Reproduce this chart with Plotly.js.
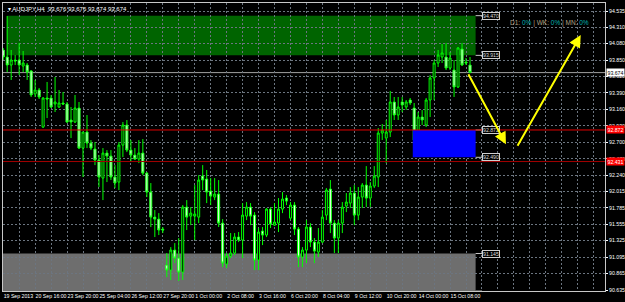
<!DOCTYPE html>
<html><head><meta charset="utf-8">
<script src="https://cdn.plot.ly/plotly-3.0.1.min.js"></script>
<style>html,body{margin:0;padding:0;background:#000;overflow:hidden}#chart{width:625px;height:302px}</style>
</head><body><div id="chart"></div>
<script>
// ---- data (AUDJPY H4) ----
const barOpen = [93.990,93.892,93.780,93.850,93.850,93.766,93.780,93.696,93.375,93.431,
 92.913,93.319,93.319,93.235,93.193,93.249,93.235,93.011,92.983,93.179,
 92.619,92.843,92.689,92.605,92.451,92.200,92.549,92.507,92.214,92.144,
 92.661,92.941,92.591,92.521,92.465,92.549,92.269,92.004,91.654,91.626,
 91.487,90.983,90.913,91.193,91.081,90.885,91.794,91.668,91.668,91.654,
 92.228,92.186,92.018,91.934,91.976,91.570,90.997,91.109,91.151,91.375,
 91.333,91.668,91.794,91.682,91.053,91.459,91.403,91.766,91.542,91.570,
 91.766,91.920,91.640,91.822,91.487,91.095,91.193,91.515,91.305,91.165,
 91.305,91.682,92.046,91.570,91.361,91.570,91.808,91.850,91.990,91.682,
 91.934,92.102,91.920,92.088,92.214,92.829,92.759,92.843,93.263,93.081,
 93.263,93.193,93.291,93.179,92.731,93.053,92.941,93.291,93.599,93.808,
 93.892,93.892,93.738,93.710,93.473,94.004,93.822,93.780];
const barHigh = [94.018,94.465,93.990,93.920,94.088,93.976,93.808,93.710,93.571,93.459,
 93.333,93.543,93.361,93.613,93.431,93.403,93.263,93.193,93.361,93.263,
 92.843,93.081,92.731,92.703,92.521,92.619,92.591,92.591,92.381,92.703,
 92.983,93.011,92.731,92.619,92.731,92.745,92.283,92.130,91.752,91.710,
 91.515,91.151,91.235,91.291,91.361,91.822,91.892,91.794,92.102,92.241,
 92.381,92.312,92.200,92.200,92.172,91.626,91.151,91.431,91.431,91.445,
 91.850,91.864,91.850,91.724,91.501,91.515,91.780,91.794,91.850,91.920,
 92.004,91.962,91.864,91.864,91.515,91.235,91.612,91.570,91.361,91.501,
 91.752,92.060,92.172,91.612,91.612,91.864,91.990,92.074,92.102,92.074,
 92.130,92.367,92.144,92.367,92.899,92.955,93.011,93.417,93.333,93.333,
 93.333,93.291,93.319,93.249,93.123,93.151,93.319,93.640,93.850,93.990,
 94.074,94.088,93.962,93.850,94.032,94.088,93.878,93.892];
const barLow = [93.850,93.682,93.571,93.780,93.640,93.682,93.571,93.333,93.333,93.305,
 92.899,93.039,93.179,93.123,93.179,93.221,92.969,92.759,92.969,92.605,
 92.214,92.619,92.591,92.381,92.074,91.892,92.144,92.172,92.060,92.032,
 92.493,92.563,92.423,92.451,92.409,92.241,91.934,91.515,91.375,91.403,
 91.431,90.815,90.774,91.011,90.760,90.774,91.473,91.542,91.333,91.570,
 92.032,91.850,91.822,91.892,91.515,90.955,90.941,91.081,91.123,91.305,
 91.081,91.612,91.542,90.913,90.913,91.263,91.375,91.501,91.530,91.445,
 91.710,91.822,91.612,91.403,90.955,90.955,91.011,91.235,91.011,91.095,
 91.291,91.612,91.431,91.151,91.151,91.431,91.724,91.780,91.542,91.612,
 91.780,91.794,91.794,92.060,92.074,92.731,92.409,92.773,93.011,93.011,
 93.123,93.151,93.221,92.493,92.661,92.941,92.913,93.053,93.291,93.752,
 93.808,93.710,93.710,93.333,93.459,93.766,93.780,93.668];
const barClose = [93.892,93.780,93.850,93.836,93.780,93.808,93.682,93.361,93.431,93.333,
 93.319,93.305,93.193,93.263,93.249,93.235,92.983,92.983,93.179,92.619,
 92.843,92.689,92.619,92.451,92.214,92.549,92.507,92.214,92.130,92.661,
 92.941,92.591,92.521,92.465,92.549,92.269,92.004,91.654,91.626,91.473,
 91.473,90.913,91.193,91.081,90.885,91.794,91.654,91.710,91.697,92.172,
 92.172,92.004,91.948,91.976,91.570,91.011,91.109,91.151,91.375,91.333,
 91.682,91.794,91.668,91.053,91.445,91.403,91.766,91.556,91.585,91.766,
 91.906,91.878,91.822,91.487,91.095,91.193,91.515,91.305,91.179,91.305,
 91.654,92.032,91.570,91.361,91.570,91.794,91.864,91.990,91.682,91.934,
 92.102,91.920,92.088,92.228,92.829,92.871,92.843,93.263,93.081,93.193,
 93.221,93.263,93.249,92.731,93.053,93.011,93.291,93.599,93.808,93.920,
 93.948,93.738,93.878,93.473,94.018,93.780,93.808,93.674];

const xTickLabels = ['19 Sep 2013','20 Sep 16:00','23 Sep 20:00','25 Sep 04:00','26 Sep 12:00',
 '27 Sep 20:00','1 Oct 00:00','2 Oct 08:00','3 Oct 16:00','6 Oct 20:00','8 Oct 04:00',
 '9 Oct 12:00','10 Oct 20:00','14 Oct 00:00','15 Oct 08:00'];
const yTickLabels = ['94.535','94.310','94.080','93.850','93.620','93.390','93.160','92.930','92.700',
 '92.470','92.240','92.015','91.785','91.555','91.325','91.095','90.865','90.635'];

// zones (rectangles): price top / bottom, bar from / to
const zoneTop    = [94.470, 92.872, 91.145];
const zoneBottom = [93.915, 92.490, 90.620];
const zoneFrom   = [0.9, 102.65, -2];
const zoneTo     = [118.4, 118.4, 118.4];
// horizontal levels
const levelPrices = [92.872, 92.431];
const lastPrice = 93.674;
const headerText = 'AUDJPY,H4  93.676 93.676 93.674 93.674';
// arrows: [bar, price] start -> end
const arrowStart = [[116.4, 93.673], [128.7, 92.630]];
const arrowEnd   = [[126.0, 92.672], [144.75, 94.200]];

// ---- build ----
const barIndex = barOpen.map((_, i) => i);
const trace = {
  type: 'candlestick', x: barIndex, open: barOpen, high: barHigh, low: barLow, close: barClose,
  increasing: {line: {color: '#00ff00', width: 1}, fillcolor: '#000000'},
  decreasing: {line: {color: '#00ff00', width: 1}, fillcolor: '#ffffff'},
  whiskerwidth: 0, hoverinfo: 'skip'
};
// white fill of bearish bodies (drawn from the same arrays)
const bearIdx = barIndex.filter(i => barClose[i] < barOpen[i]);
const bearBodies = {
  type: 'bar', x: bearIdx, base: bearIdx.map(i => barClose[i]),
  y: bearIdx.map(i => barOpen[i] - barClose[i]), width: 0.6,
  marker: {color: '#ffffff', line: {width: 0}}, hoverinfo: 'skip'
};

const xTickVals = [], xTickText = [];
for (let k = 0; k <= 37; k++) {
  xTickVals.push(4 * k);
  xTickText.push(k % 2 === 0 && xTickLabels[k / 2] ? xTickLabels[k / 2] : '');
}
const yTickVals = yTickLabels.map(Number);

const gridCol = '#6c7580';
const tickFont = {family: 'Liberation Sans, Arial, sans-serif', size: 5.2, color: '#ffffff'};
const zoneFill = ['#006400', '#0000ff', '#6e6e6e'];
const zoneLayer = ['below', 'above', 'below'];
const shapes = [], annotations = [];

zoneTop.forEach((t, i) => {
  shapes.push({type: 'rect', xref: 'x', yref: 'y', x0: zoneFrom[i], x1: zoneTo[i], y0: zoneBottom[i], y1: t,
    fillcolor: zoneFill[i], line: {width: 0}, layer: zoneLayer[i]});
  [t, zoneBottom[i]].forEach(p => {
    shapes.push({type: 'line', xref: 'x', yref: 'y', x0: zoneTo[i], x1: zoneTo[i] + 1.6, y0: p, y1: p,
      line: {color: '#c8c8c8', width: 1}, layer: 'above'});
    annotations.push({xref: 'x', yref: 'y', x: zoneTo[i] + 1.6, y: p, xanchor: 'left', yanchor: 'middle',
      text: p.toFixed(3), showarrow: false, bgcolor: '#000', bordercolor: '#d0d0d0', borderwidth: 1, borderpad: 0,
      font: {family: 'Liberation Sans, Arial', size: 5.2, color: '#d8d8d8'}});
  });
});

const levelCol = ['#e00000', '#a00000'];
levelPrices.forEach((p, i) => {
  shapes.push({type: 'line', xref: 'paper', yref: 'y', x0: 0, x1: 1, y0: p, y1: p,
    line: {color: levelCol[i], width: 1}, layer: 'above'});
  annotations.push({xref: 'paper', yref: 'y', x: 1, y: p, xanchor: 'left', yanchor: 'middle', xshift: 1,
    text: p.toFixed(3), showarrow: false, bgcolor: '#ff0000', borderpad: 0.5,
    font: {family: 'Liberation Sans, Arial', size: 5.2, color: '#ffffff'}});
});

shapes.push({type: 'line', xref: 'paper', yref: 'y', x0: 0, x1: 1, y0: lastPrice, y1: lastPrice,
  line: {color: '#a0a0a0', width: 1}, layer: 'below'});
annotations.push({xref: 'paper', yref: 'y', x: 1, y: lastPrice, xanchor: 'left', yanchor: 'middle', xshift: 1,
  text: lastPrice.toFixed(3), showarrow: false, bgcolor: '#ffffff', borderpad: 0.5,
  font: {family: 'Liberation Sans, Arial', size: 5.2, color: '#000000'}});

arrowStart.forEach((s, i) => {
  annotations.push({xref: 'x', yref: 'y', axref: 'x', ayref: 'y', x: arrowEnd[i][0], y: arrowEnd[i][1],
    ax: s[0], ay: s[1], text: '', showarrow: true, arrowcolor: '#ffff00', arrowwidth: 2,
    arrowhead: 2, arrowsize: 1.2});
});

annotations.push({xref: 'paper', yref: 'paper', x: 0, y: 1, xanchor: 'left', yanchor: 'top', xshift: 3, yshift: -0.5,
  text: '\u25BE ' + headerText, showarrow: false,
  font: {family: 'Liberation Sans, Arial', size: 6, color: '#ffffff'}});
annotations.push({xref: 'paper', yref: 'paper', x: 0.9086, y: 0.9306, xanchor: 'center', yanchor: 'middle',
  text: '<span style="color:#b0a080">D1:</span> <span style="color:#00b0b0">0%</span> <span style="color:#b0a080">|</span> ' +
        '<span style="color:#b0a080">WK:</span> <span style="color:#00b0b0">0%</span> <span style="color:#b0a080">|</span> ' +
        '<span style="color:#b0a080">MN:</span> <span style="color:#00b0b0">0%</span>',
  showarrow: false, font: {family: 'Liberation Sans, Arial', size: 6.5, color: '#b0a080'}});

const layout = {
  width: 625, height: 302, paper_bgcolor: '#000000', plot_bgcolor: '#000000',
  margin: {l: 3, r: 20, t: 3, b: 11}, showlegend: false, dragmode: false, barmode: 'overlay',
  xaxis: {range: [-0.05, 150.83], tickmode: 'array', tickvals: xTickVals, ticktext: xTickText, tickangle: 0,
    showgrid: true, gridcolor: gridCol, griddash: '2px,2px', gridwidth: 1, ticks: '',
    tickfont: tickFont, ticklabelposition: 'outside right', showline: true, linecolor: '#c8c8c8',
    linewidth: 1, mirror: true, zeroline: false, rangeslider: {visible: false}, fixedrange: true,
    automargin: false},
  yaxis: {side: 'right', range: [90.621, 94.647], tickmode: 'array', tickvals: yTickVals, ticktext: yTickLabels,
    showgrid: true, gridcolor: gridCol, griddash: '2px,2px', gridwidth: 1, ticks: 'outside', ticklen: 2,
    tickcolor: '#ffffff', tickfont: tickFont, showline: true, linecolor: '#c8c8c8', linewidth: 1, mirror: true,
    zeroline: false, fixedrange: true, automargin: false},
  shapes: shapes, annotations: annotations
};
Plotly.newPlot('chart', [trace, bearBodies], layout, {displayModeBar: false, staticPlot: true});
</script></body></html>
